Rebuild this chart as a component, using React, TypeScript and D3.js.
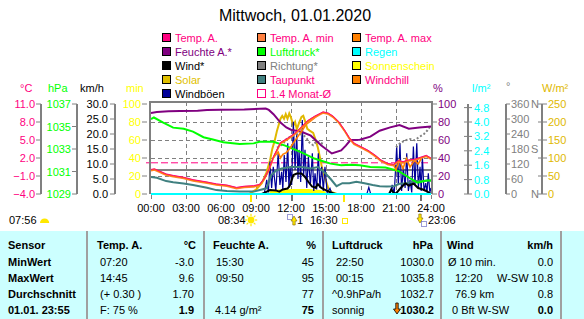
import React from "react";
import * as d3 from "d3";

type P = [number, number];
const N = NaN;

// ---------- texts & ticks ----------
const title = "Mittwoch, 01.01.2020";
const hourTicks = [0, 3, 6, 9, 12, 15, 18, 21, 24];
const hourLabels = ["00:00", "03:00", "06:00", "09:00", "12:00", "15:00", "18:00", "21:00", "24:00"];
const tempTicks = [11, 8, 5, 2, -1, -4];
const pressTicks = [1037, 1035, 1033, 1031, 1029];
const windTicks = [30, 25, 20, 15, 10, 5, 0];
const sunTicks = [100, 80, 60, 40, 20, 0];
const humTicks = [100, 80, 60, 40, 20, 0];
const rainTicks = [4.8, 4.0, 3.2, 2.4, 1.6, 0.8, 0.0];
const dirTicks = [360, 300, 240, 180, 120, 60, 0];
const dirLetters: Record<number, string> = { 360: "N", 180: "S", 0: "N" };
const solarTicks = [250, 200, 150, 100, 50, 0];

const legendCol1 = ["Temp. A.", "Feuchte A.*", "Wind*", "Solar", "Windböen"];
const legendCol2 = ["Temp. A. min", "Luftdruck*", "Richtung*", "Taupunkt", "1.4 Monat-Ø"];
const legendCol3 = ["Temp. A. max", "Regen", "Sonnenschein", "Windchill"];

// ---------- series (hour, value) ----------
const monthAvgTemp = 1.2;

const tempA: P[] = [
  [0, 0.0], [0.3, 0.1], [1.3, -0.75], [1.9, -1.0], [2.8, -1.3], [3.6, -1.7], [4.8, -2.1], [5.6, -2.4],
  [6.5, -2.6], [7.33, -3.0], [8.0, -2.8], [8.8, -2.7], [9.3, -2.5], [9.7, -1.5], [10.1, 0.0], [10.5, 2.15],
  [11.1, 4.5], [11.7, 5.2], [12.3, 6.0], [12.9, 7.1], [13.4, 8.1], [14.0, 8.85], [14.5, 9.35], [14.75, 9.6],
  [15.2, 9.4], [15.6, 8.9], [16.1, 7.95], [16.6, 6.55], [17.0, 5.3], [17.4, 4.4], [18.0, 3.8], [18.6, 3.2],
  [19.2, 2.4], [19.7, 1.6], [20.3, 1.0], [20.8, 0.85], [21.2, 1.5], [21.6, 1.3], [22.1, 1.6], [22.6, 1.7],
  [23.2, 2.1], [23.6, 2.35], [24, 1.9],
];

const windchill: P[] = [
  [10.5, 2.1], [10.9, 3.0], [11.1, 2.0], [11.3, 2.6], [11.6, 2.9], [11.9, 3.6], [12.2, 4.5], [12.6, 5.6],
  [13.0, 6.7], [13.3, 7.6], [13.7, 8.2], [14.1, 8.8], [14.4, 9.2],
  [N, N],
  [20.8, 0.85], [21.0, 0.0], [21.3, 1.6], [21.6, 0.25], [21.9, 1.9], [22.2, 0.5], [22.6, 1.6], [22.9, 1.0], [23.2, 2.0],
];

const dewPoint: P[] = [
  [0, -1.15], [0.5, -1.3], [1.3, -1.85], [1.9, -2.05], [2.8, -2.25], [3.6, -2.5], [4.8, -2.95], [5.6, -3.35],
  [6.5, -3.5], [7.6, -3.6], [8.8, -3.6], [9.9, -3.05], [10.3, -0.9], [10.7, -0.15], [11.2, 0.25], [12, 0.5],
  [12.9, 0.5], [13.7, 0.25], [14.3, 0.5], [14.9, -0.45], [15.4, -1.5], [15.9, -2.7], [16.4, -2.2], [17, -2.2],
  [17.6, -1.95], [18.3, -2.2], [19, -2.5], [19.6, -2.7], [20.2, -2.75], [20.8, -2.7], [21.3, -2.3], [21.9, -2.2],
  [22.6, -1.85], [23.3, -1.85], [24, -1.75],
];

const humidity: P[] = [
  [0, 90], [0.5, 91], [1.5, 92], [2.5, 92.3], [4.0, 92.5], [4.8, 93.4], [6, 93.6], [8, 94], [9.83, 95],
  [10.1, 93.4], [10.5, 88.7], [11.1, 79.4], [11.6, 74], [12, 71.4], [12.9, 69.2], [13.7, 64.8], [14.6, 53.8],
  [15.5, 45], [16.3, 48.4], [16.7, 53.8], [17.1, 60], [17.9, 60.4], [18.8, 63.7], [19.6, 70.3], [20.5, 74],
  [21.3, 76.6], [22.1, 72.5], [23, 74], [24, 75],
];

const pressure: P[] = [
  [0, 1035.65], [0.25, 1035.8], [1.05, 1035.35], [1.9, 1034.9], [2.8, 1034.8], [3.6, 1034.55], [4.5, 1034.05],
  [5.3, 1033.85], [6.2, 1033.6], [7.6, 1033.45], [8.8, 1033.5], [9.3, 1033.65], [10.5, 1033.65], [11.5, 1033.3],
  [12.9, 1032.7], [14.0, 1032.15], [14.6, 1031.95], [15.4, 1031.7], [16.3, 1031.55], [17.1, 1031.6],
  [17.9, 1031.55], [18.8, 1031.4], [20.1, 1031.35], [21.2, 1031.05], [21.9, 1030.6], [22.83, 1030.0],
  [23.6, 1030.2], [24, 1030.2],
];

const solar: P[] = [
  [0, 0], [8.4, 0], [9.0, 12], [9.5, 30], [9.9, 60], [10.2, 93], [10.4, 126], [10.6, 148], [10.8, 176],
  [11.0, 198], [11.1, 209], [11.25, 217], [11.4, 209], [11.55, 222], [11.7, 209], [11.85, 224], [12.0, 212],
  [12.2, 190], [12.35, 200], [12.5, 180], [12.7, 198], [12.9, 214], [13.05, 217], [13.2, 203], [13.4, 181],
  [13.6, 176], [13.9, 170], [14.1, 151], [14.3, 129], [14.5, 99], [14.7, 66], [15.0, 36], [15.2, 16],
  [15.5, 5], [15.9, 1], [16.3, 0], [24, 0],
];

const sunshine: P[] = [
  [0, 0], [10.1, 0], [10.2, 3], [10.5, 4], [10.9, 5], [11.5, 5], [12, 5.5], [13, 5.5], [13.5, 5.5],
  [14, 5], [14.5, 4.5], [14.9, 3], [15.1, 0], [24, 0],
];

const wind: P[] = [
  [0, 0], [9.5, 0], [9.7, 0.4], [10.2, 1.3], [10.7, 1.2], [11.0, 0.8], [11.3, 1.5], [11.7, 1.8], [11.9, 2.8],
  [12.2, 6.3], [12.5, 6.8], [12.9, 6.8], [13.2, 5.7], [13.5, 4.0], [13.8, 2.5], [14.1, 2.1], [14.3, 3.3],
  [14.6, 2.0], [15.0, 1.2], [15.4, 0.5], [15.8, 0], [20.4, 0], [20.6, 1.5], [20.8, 0.3], [21.0, 0.2],
  [21.4, 2.0], [21.8, 3.6], [22.1, 2.8], [22.5, 3.5], [22.9, 2.0], [23.3, 1.5], [23.6, 1.0], [24, 0],
];

const gusts: P[] = [
  [0, 0], [9.7, 0], [9.92, 4.7], [10.06, 0.5], [10.2, 10.8], [10.34, 2], [10.48, 9.1], [10.7, 1],
  [10.9, 13.6], [11.05, 3], [11.2, 7.4], [11.3, 1.5], [11.42, 13], [11.57, 4], [11.72, 16.9], [11.82, 2],
  [11.92, 9.1], [12.06, 3], [12.2, 24.1], [12.35, 8], [12.49, 20.2], [12.6, 5], [12.69, 14.7], [12.83, 4],
  [12.97, 24.7], [13.08, 6], [13.2, 14.7], [13.35, 2], [13.49, 12.4], [13.66, 3], [13.83, 13.6], [13.95, 1],
  [14.06, 6.9], [14.2, 1.5], [14.34, 13.6], [14.48, 2], [14.63, 9.1], [14.77, 1], [14.91, 9.1], [15.1, 0.5],
  [15.34, 1.9], [15.5, 0], [18.5, 0], [18.67, 2.2], [18.83, 0], [20.5, 0], [20.67, 3], [20.85, 0],
  [21.06, 15.8], [21.2, 3], [21.34, 16.9], [21.48, 1], [21.63, 9.1], [21.78, 2], [21.92, 13.6], [22.06, 1],
  [22.2, 4.7], [22.35, 0.5], [22.49, 15.8], [22.63, 3], [22.78, 16.9], [22.92, 2], [23.06, 9.1], [23.16, 1],
  [23.26, 12.4], [23.4, 1], [23.55, 3.6], [23.66, 0.5], [23.77, 6.9], [23.9, 0.5], [24, 2],
];

const direction: P[] = [
  [10.8, 185], [11.0, 190], [11.3, 200], [11.7, 225], [12.0, 230], [12.3, 235], [12.7, 240], [13.0, 238],
  [13.3, 225], [13.6, 205], [13.9, 195], [14.2, 212], [14.5, 205], [14.8, 200],
  [N, N],
  [21.0, 187], [21.4, 205], [21.8, 215], [22.2, 220], [22.6, 215], [23.0, 228], [23.4, 240], [23.7, 255], [24.0, 275],
];

const rain: P[] = [[0, 0], [24, 0]];

// ---------- table ----------
const tableHeader = ["Sensor", "Temp. A.", "°C", "Feuchte A.", "%", "Luftdruck", "hPa", "Wind", "km/h"];
const tableRows = [
  ["MinWert", "07:20", "-3.0", "15:30", "45", "22:50", "1030.0", "Ø 10 min.", "0.0"],
  ["MaxWert", "14:45", "9.6", "09:50", "95", "00:15", "1035.8", "12:20", "W-SW 10.8"],
  ["Durchschnitt", "(+ 0.30 )", "1.70", "", "77", "^0.9hPa/h", "1032.7", "76.9 km", "0.8"],
  ["01.01. 23:55", "F: 75 %", "1.9", "4.14 g/m²", "75", "sonnig", "1030.2", "0 Bft W-SW", "0.0"],
];
const bottomLabels = ["07:56", "08:34", "1", "16:30", "23:06"];
const sunriseH = 8.567;
const sunsetH = 16.5;
const moonriseH = 12.05;
const moonsetH = 23.1;

// ---------- styles ----------
const F = "'Liberation Sans', Arial, Helvetica, sans-serif";
const C = {
  temp: "#FF0080", tmin: "#FF8040", tmax: "#FF8000", hum: "#800080", press: "#00FF00", rain: "#00FFFF",
  wind: "#000000", dir: "#808080", sun: "#FFFF00", solar: "#E0B800", dew: "#408080", chill: "#FF8000",
  gust: "#000099", grid: "#808080",
};
const legendStyle: Record<string, [string, string]> = {
  "Temp. A.": [C.temp, C.temp], "Feuchte A.*": [C.hum, C.hum], "Wind*": ["#000", "#000"],
  "Solar": ["#E0C000", "#E0C000"], "Windböen": [C.gust, "#000"], "Temp. A. min": [C.tmin, C.temp],
  "Luftdruck*": [C.press, C.press], "Richtung*": [C.dir, C.dir], "Taupunkt": [C.dew, C.temp],
  "1.4 Monat-Ø": ["#FFFFFF", C.temp], "Temp. A. max": [C.tmax, C.temp], "Regen": [C.rain, C.rain],
  "Sonnenschein": [C.sun, C.sun], "Windchill": [C.chill, C.temp],
};

const X0 = 151, X1 = 431, YT = 104, YB = 194;

export default function App() {
  const x = d3.scaleLinear().domain([0, 24]).range([X0, X1]);
  const yT = d3.scaleLinear().domain([-4, 11]).range([YB, YT]);
  const yH = d3.scaleLinear().domain([0, 100]).range([YB, YT]);
  const yP = d3.scaleLinear().domain([1029, 1037]).range([YB, YT]);
  const yW = d3.scaleLinear().domain([0, 30]).range([YB, YT]);
  const yS = d3.scaleLinear().domain([0, 100]).range([YB, YT]);
  const yD = d3.scaleLinear().domain([0, 360]).range([YB, YT]);
  const yR = d3.scaleLinear().domain([0, 5]).range([YB, YT]);
  const yQ = d3.scaleLinear().domain([0, 250]).range([YB, YT]);

  const lineOf = (y: d3.ScaleLinear<number, number>) =>
    d3.line<P>().defined((d) => !isNaN(d[1])).x((d) => x(d[0])).y((d) => y(d[1]));
  const sunArea = d3.area<P>().x((d) => x(d[0])).y0(YB).y1((d) => yS(d[1]));

  const legendCols = [legendCol1, legendCol2, legendCol3];
  const legendX = [162, 257, 352];

  const sepX = [87, 204, 323, 441, 561];
  const headX = [8, 97, 196, 213, 316, 332, 433, 447, 553];
  const rowLeft = [
    [8, 100, 216, 336, 448],
    [8, 100, 216, 336, 455],
    [8, 100, 216, 332, 455],
    [8, 100, 215, 332, 452],
  ];
  const rowRight = [194, 314, 434, 553];
  const rowY = [249, 265.5, 282, 298, 314];

  const fmt1 = d3.format(".1f");
  const txt = (props: any, s: string) => <text {...props}>{s}</text>;

  const sunRays = (cx: number, cy: number) => (
    <g>
      {d3.range(8).map((i) => {
        const a = (i * Math.PI) / 4;
        return (
          <line key={i} x1={cx + Math.cos(a) * 4} y1={cy + Math.sin(a) * 4} x2={cx + Math.cos(a) * 6.2}
            y2={cy + Math.sin(a) * 6.2} stroke="#FFE800" strokeWidth={1.2} />
        );
      })}
      <circle cx={cx} cy={cy} r={3.4} fill="#FFE800" />
    </g>
  );

  return (
    <svg width={584} height={319} style={{ position: "absolute", left: 0, top: 0, background: "#fff" }}
      fontFamily={F}>
      <rect width={584} height={319} fill="#fff" />
      {/* title */}
      <text x={295} y={21} fontSize={16} textAnchor="middle" fill="#000">{title}</text>

      {/* legend */}
      {legendCols.map((col, ci) =>
        col.map((lab, ri) => {
          const cy = 37.5 + ri * 14;
          const [fill, tc] = legendStyle[lab];
          const isAvg = lab === "1.4 Monat-Ø";
          return (
            <g key={lab}>
              <rect x={legendX[ci] + 0.5} y={cy - 4} width={8} height={8} fill={fill}
                stroke={isAvg ? C.temp : "#000"} strokeWidth={1} />
              <text x={legendX[ci] + 13} y={cy + 4} fontSize={11} fill={tc}>{lab}</text>
            </g>
          );
        })
      )}

      {/* axis headers */}
      <text x={20} y={92} fontSize={11} fill={C.temp}>°C</text>
      <text x={48} y={92} fontSize={11} fill={C.press}>hPa</text>
      <text x={80} y={92} fontSize={11} fill="#000">km/h</text>
      <text x={126} y={92} fontSize={11} fill={C.sun}>min</text>
      <text x={433} y={92} fontSize={11} fill={C.hum}>%</text>
      <text x={472} y={92} fontSize={11} fill={C.rain}>l/m²</text>
      <text x={506} y={90} fontSize={11} fill={C.dir}>°</text>
      <text x={542} y={92} fontSize={11} fill={C.solar}>W/m²</text>

      {/* plot grid */}
      <g shapeRendering="crispEdges">
        {hourTicks.slice(1, -1).map((h) => (
          <line key={h} x1={x(h)} x2={x(h)} y1={102} y2={YB} stroke={C.grid} strokeDasharray="4,3" />
        ))}
        {humTicks.slice(1, -1).map((v) => (
          <line key={v} x1={X0} x2={X1} y1={yH(v)} y2={yH(v)} stroke={C.grid} strokeDasharray="4,3" />
        ))}
        <line x1={X0} x2={X1} y1={yT(0)} y2={yT(0)} stroke={C.grid} strokeWidth={2} />
      </g>
      <line x1={X0} x2={X1} y1={yT(monthAvgTemp)} y2={yT(monthAvgTemp)} stroke={C.temp} strokeWidth={1}
        strokeDasharray="7,3" />
      <line x1={146} x2={150} y1={yT(monthAvgTemp)} y2={yT(monthAvgTemp)} stroke={C.temp} />

      {/* series */}
      <path d={sunArea(sunshine) || ""} fill={C.sun} />
      <path d={lineOf(yQ)(solar) || ""} fill="none" stroke={C.solar} strokeWidth={2} />
      <path d={lineOf(yW)(gusts) || ""} fill="none" stroke={C.gust} strokeWidth={1.2} />
      <path d={lineOf(yD)(direction) || ""} fill="none" stroke={C.dir} strokeWidth={2} strokeDasharray="2,2" />
      <path d={lineOf(yT)(dewPoint) || ""} fill="none" stroke={C.dew} strokeWidth={2} />
      <path d={lineOf(yH)(humidity) || ""} fill="none" stroke={C.hum} strokeWidth={2} />
      <path d={lineOf(yP)(pressure) || ""} fill="none" stroke={C.press} strokeWidth={2} />
      <path d={lineOf(yW)(wind) || ""} fill="none" stroke={C.wind} strokeWidth={2} />
      <path d={lineOf(yT)(windchill) || ""} fill="none" stroke={C.chill} strokeWidth={1.6} />
      <path d={lineOf(yT)(tempA) || ""} fill="none" stroke={C.tmin} strokeWidth={1.5} transform="translate(0,0.7)" />
      <path d={lineOf(yT)(tempA) || ""} fill="none" stroke={C.tmax} strokeWidth={1.5} />
      <path d={lineOf(yT)(tempA) || ""} fill="none" stroke={C.temp} strokeWidth={1} transform="translate(0,-0.6)" />
      <path d={lineOf(yR)(rain) || ""} fill="none" stroke={C.rain} strokeWidth={2} />

      {/* frame */}
      <g shapeRendering="crispEdges">
        <line x1={150} x2={150} y1={101} y2={YB} stroke={C.grid} strokeWidth={2} />
        <line x1={432} x2={432} y1={101} y2={YB} stroke={C.grid} strokeWidth={2} />
        <line x1={150} x2={432} y1={101.5} y2={101.5} stroke={C.grid} strokeWidth={2} />
        {hourTicks.map((h) => (
          <line key={h} x1={x(h)} x2={x(h)} y1={YB + 1} y2={YB + 5} stroke={C.grid} />
        ))}
        <line x1={x(sunriseH)} x2={x(sunriseH)} y1={YB + 1} y2={YB + 8} stroke="#FFE800" strokeWidth={2} />
        <line x1={x(sunsetH)} x2={x(sunsetH)} y1={YB + 1} y2={YB + 8} stroke="#FFE800" strokeWidth={2} />
        <line x1={x(moonriseH)} x2={x(moonriseH)} y1={YB + 1} y2={YB + 7} stroke="#707070" strokeWidth={2} />
        <line x1={x(moonsetH)} x2={x(moonsetH)} y1={YB + 1} y2={YB + 7} stroke="#707070" strokeWidth={2} />
      </g>

      {/* time labels */}
      {hourLabels.map((l, i) => (
        <text key={l} x={x(hourTicks[i])} y={212} fontSize={11} textAnchor="middle" fill="#000">{l}</text>
      ))}

      {/* axis lines */}
      <g shapeRendering="crispEdges">
        <line x1={41} x2={41} y1={YT} y2={YB} stroke={C.grid} strokeWidth={2} />
        <line x1={77} x2={77} y1={YT} y2={YB} stroke={C.grid} strokeWidth={2} />
        <line x1={115} x2={115} y1={YT} y2={YB} stroke={C.grid} strokeWidth={2} />
        <line x1={468} x2={468} y1={YT} y2={YB} stroke={C.grid} strokeWidth={2} />
        <line x1={506} x2={506} y1={YT} y2={YB} stroke={C.grid} strokeWidth={2} />
        <line x1={542} x2={542} y1={YT} y2={YB} stroke={C.grid} strokeWidth={2} />
      </g>
      {tempTicks.map((v) => (
        <g key={v}>
          <line x1={36} x2={41} y1={yT(v)} y2={yT(v)} stroke={C.grid} />
          <text x={35} y={yT(v) + 4} fontSize={11} textAnchor="end" fill={C.temp}>{fmt1(v)}</text>
        </g>
      ))}
      {pressTicks.map((v) => (
        <g key={v}>
          <line x1={72} x2={77} y1={yP(v)} y2={yP(v)} stroke={C.grid} />
          <text x={71} y={yP(v) + 4} fontSize={11} textAnchor="end" fill={C.press}>{v}</text>
        </g>
      ))}
      {windTicks.map((v) => (
        <g key={v}>
          <line x1={110} x2={115} y1={yW(v)} y2={yW(v)} stroke={C.grid} />
          <text x={108} y={yW(v) + 4} fontSize={11} textAnchor="end" fill="#000">{fmt1(v)}</text>
        </g>
      ))}
      {sunTicks.map((v) => (
        <g key={v}>
          <line x1={142} x2={147} y1={yS(v)} y2={yS(v)} stroke={C.grid} />
          <text x={141} y={yS(v) + 4} fontSize={11} textAnchor="end" fill={C.sun}>{v}</text>
        </g>
      ))}

      {/* right axes */}
      {humTicks.map((v) => (
        <g key={v}>
          <line x1={432} x2={437} y1={yH(v)} y2={yH(v)} stroke={C.grid} />
          <text x={438} y={yH(v) + 4} fontSize={11} fill={C.hum}>{v}</text>
        </g>
      ))}
      {rainTicks.map((v) => (
        <g key={v}>
          <line x1={464} x2={472} y1={yR(v)} y2={yR(v)} stroke={C.grid} />
          <text x={474} y={yR(v) + 4} fontSize={11} fill={C.rain}>{fmt1(v)}</text>
        </g>
      ))}
      {dirTicks.map((v) => (
        <g key={v}>
          <line x1={506} x2={510} y1={yD(v)} y2={yD(v)} stroke={C.grid} />
          <text x={511} y={yD(v) + 4} fontSize={11} fill={C.dir}>{v}</text>
          {dirLetters[v] ? (
            <text x={531} y={yD(v) + 4} fontSize={11} fill={C.dir}>{dirLetters[v]}</text>
          ) : null}
        </g>
      ))}
      {solarTicks.map((v) => (
        <g key={v}>
          <line x1={538} x2={547} y1={yQ(v)} y2={yQ(v)} stroke={C.grid} />
          <text x={548} y={yQ(v) + 4} fontSize={11} fill={C.solar}>{v}</text>
        </g>
      ))}

      {/* astro row */}
      <text x={9} y={224} fontSize={11} fill="#000">{bottomLabels[0]}</text>
      <path d="M40,223 A4.6,4.6 0 0 1 49.2,223 Z" fill="#FFE800" />
      <text x={218} y={224} fontSize={11} fill="#000">{bottomLabels[1]}</text>
      {sunRays(251, 220)}
      <rect x={287.5} y={214.5} width={5} height={5} fill="none" stroke="#000099" strokeWidth={0.8}
        strokeDasharray="1,1" />
      <path d="M294,216 L297,221 L295.2,221 L295.2,225 L292.8,225 L292.8,221 L291,221 Z" fill="#FFE800"
        stroke="#806000" strokeWidth={0.6} />
      <text x={297} y={224} fontSize={11} fill="#000">{bottomLabels[2]}</text>
      <text x={310} y={224} fontSize={11} fill="#000">{bottomLabels[3]}</text>
      <rect x={342.5} y={218.5} width={5} height={5} fill="none" stroke="#FFE800" strokeWidth={1} />
      <path d="M420,223 L423,218 L421.2,218 L421.2,214 L418.8,214 L418.8,218 L417,218 Z" fill="#FFE800"
        stroke="#806000" strokeWidth={0.6} />
      <rect x={421.5} y={221.5} width={5} height={5} fill="none" stroke="#000099" strokeWidth={0.8}
        strokeDasharray="1,1" />
      <text x={428} y={224} fontSize={11} fill="#000">{bottomLabels[4]}</text>

      {/* table */}
      <rect x={0} y={231} width={584} height={88} fill="#CCFFFF" />
      {sepX.map((sx) => (
        <line key={sx} x1={sx} x2={sx} y1={231} y2={319} stroke="#A0A0A0" strokeWidth={2} />
      ))}
      {tableHeader.map((h, i) =>
        txt({ key: "h" + i, x: headX[i], y: rowY[0], fontSize: 11, fontWeight: "bold", fill: "#000",
          textAnchor: i > 0 && i % 2 === 0 ? "end" : "start" }, h)
      )}
      {tableRows.map((row, ri) =>
        row.map((cell, ci) => {
          const isRight = ci > 0 && ci % 2 === 0;
          const bold = ci === 0 || (ri === 3 && isRight);
          const xx = ci === 0 ? rowLeft[ri][0] : isRight ? rowRight[ci / 2 - 1] : rowLeft[ri][(ci + 1) / 2];
          return txt({ key: ri + "-" + ci, x: xx, y: rowY[ri + 1], fontSize: 11,
            fontWeight: bold ? "bold" : "normal", fill: "#000", textAnchor: isRight ? "end" : "start" }, cell);
        })
      )}
      <path d="M395.8,303 L398.2,303 L398.2,309 L400.5,309 L397,314 L393.5,309 L395.8,309 Z" fill="#FF8000"
        stroke="#000" strokeWidth={0.8} />
    </svg>
  );
}
